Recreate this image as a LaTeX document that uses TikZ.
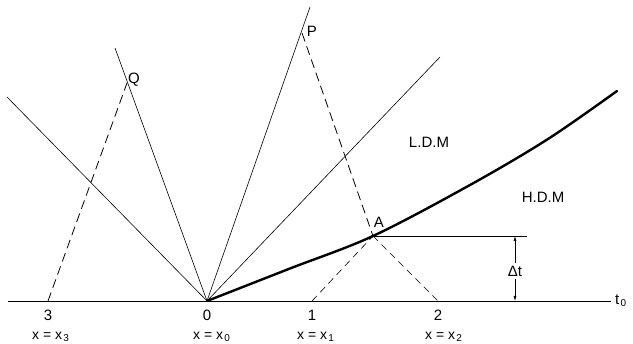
\documentclass[tikz,border=0pt]{standalone}
\usepackage{fontspec}
\setmainfont{Liberation Sans}
\usetikzlibrary{arrows.meta}
\newcommand{\sbs}[1]{\hspace{1.2pt}\raisebox{-2pt}{\fontsize{10}{10}\selectfont #1}}
\begin{document}
\begin{tikzpicture}[x=1pt,y=-1pt,
  thinline/.style={line width=0.6pt},
  dashline/.style={line width=0.8pt, dash pattern=on 9pt off 5pt},
  dashthin/.style={line width=0.6pt, dash pattern=on 7pt off 5pt},
  world/.style={line width=2.4pt, line cap=round},
  lab/.style={font=\fontsize{15}{15}\selectfont, inner sep=0pt},
  xlab/.style={font=\fontsize{14}{14}\selectfont, inner sep=0pt, anchor=base west},
  dim/.style={line width=0.6pt, -{Latex[length=5pt,width=3pt]}}]
\useasboundingbox (0,0) rectangle (633,344);
% key points
\coordinate (O) at (207,301);
\coordinate (A) at (373,236);
\coordinate (P) at (302,33);
\coordinate (Q) at (127,83);
\coordinate (X1) at (312,301);
\coordinate (X2) at (438,301);
\coordinate (X3) at (48,301);
\coordinate (axL) at (8,301);
\coordinate (axR) at (611,301);
\coordinate (eUL) at (7,97);
\coordinate (eQ) at (115,48);
\coordinate (eP) at (310,7);
\coordinate (eUR) at (440,57);
\coordinate (hEnd) at (527,236);
\coordinate (dtTop) at (515,236);
\coordinate (dtBot) at (515,301);
\coordinate (c1) at (290,268.5);
\coordinate (c2) at (470,185);
\coordinate (c3) at (548,139);
\coordinate (c4) at (617,91);
% axis
\draw[thinline] (axL) -- (axR);
% rays from O
\draw[thinline] (O) -- (eUL);
\draw[thinline] (O) -- (eQ);
\draw[thinline] (O) -- (eP);
\draw[thinline] (O) -- (eUR);
% world line
\draw[world] plot[smooth, tension=0.55] coordinates {(O) (c1) (A) (c2) (c3) (c4)};
% dashed characteristics
\draw[dashline] (X3) -- (Q);
\draw[dashline] (P) -- (A);
\draw[dashthin] (X1) -- (A);
\draw[dashthin] (A) -- (X2);
% Delta t
\draw[thinline] (A) -- (hEnd);
\node[lab, inner sep=2.5pt] (dt) at (515,271) {Δt};
\draw[dim] (dt.north) -- (dtTop);
\draw[dim] (dt.south) -- (dtBot);
% labels
\node[lab] (lQ) at (134,80) {Q};
\node[lab] (lP) at (312,31) {P};
\node[lab] (lA) at (379,222) {A};
\node[lab] (lL) at (429,142) {L.D.M};
\node[lab] (lH) at (543,197) {H.D.M};
\node[lab, anchor=west] (lt) at (615,301) {t\sbs{0}};
\node[lab] (n3) at (48,315) {3};
\node[lab] (n0) at (207,315) {0};
\node[lab] (n1) at (312,315) {1};
\node[lab] (n2) at (438,315) {2};
\node[xlab] (x3) at (32,339.5) {x = x\sbs{3}};
\node[xlab] (x0) at (193,339.5) {x = x\sbs{0}};
\node[xlab] (x1) at (297,339.5) {x = x\sbs{1}};
\node[xlab] (x2) at (425,339.5) {x = x\sbs{2}};
\end{tikzpicture}
\end{document}
